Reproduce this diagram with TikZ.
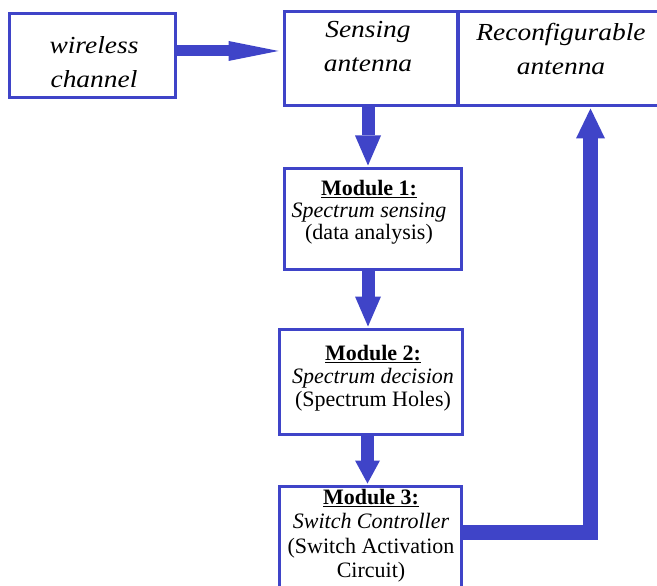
\documentclass[tikz,border=0pt]{standalone}
\usepackage{fontspec}
\setmainfont{Liberation Serif}
\usetikzlibrary{arrows.meta}
\definecolor{dblue}{RGB}{63,68,200}
\tikzset{
  box/.style={draw=dblue, line width=3pt, fill=white, inner sep=0pt, rectangle},
  toptext/.style={anchor=north, inner sep=0pt, align=center, font=\fontsize{24.5}{33.5}\selectfont\itshape},
  modtext/.style={anchor=north, inner sep=0pt, align=center},
  bigarrow/.style={draw=dblue, line join=miter},
}
\newcommand{\hs}[1]{\scalebox{1.12}[1]{#1}}
\begin{document}
\begin{tikzpicture}[x=1pt,y=-1pt]
\useasboundingbox (0,0) rectangle (657,586);
\clip (0,0) rectangle (657,586);
% boxes
\node[box, minimum width=166pt, minimum height=84pt] (wc) at (92.5,55.5) {};
\node[box, minimum width=202pt, minimum height=94pt] (rc) at (559.5,58.5) {};
\node[box, minimum width=173pt, minimum height=94pt] (sens) at (371,58.5) {};
\node[box, minimum width=177pt, minimum height=101pt] (m1) at (373,219) {};
\node[box, minimum width=183pt, minimum height=105pt] (m2) at (371,382) {};
\node[box, minimum width=182pt, minimum height=112pt] (m3) at (370.5,542.5) {};
% texts
\node[toptext] (wct) at (94,36.5) {\hs{wireless}\\\hs{channel}};
\node[toptext] (senst) at (368,21.5) {\hs{Sensing}\\\hs{antenna}};
\node[toptext] (rct) at (561,23.5) {\hs{Reconfigurable}\\\hs{antenna}};
\node[modtext, font=\fontsize{22}{21.8}\selectfont] (m1t) at (369,180.5)
  {\underline{\textbf{Module 1:}}\\\textit{Spectrum sensing}\\(data analysis)};
\node[modtext, font=\fontsize{22}{23}\selectfont] (m2t) at (373,345)
  {\underline{\textbf{Module 2:}}\\\textit{Spectrum decision}\\(Spectrum Holes)};
\node[modtext, font=\fontsize{22}{24.3}\selectfont] (m3t) at (371,489)
  {\underline{\textbf{Module 3:}}\\\textit{Switch Controller}\\(Switch Activation\\Circuit)};
% arrows
\draw[bigarrow, line width=11pt, -{Triangle[length=50pt,width=20pt,line width=0pt]}, shorten >=4.5pt]
  ([yshift=4.5pt]wc.east) -- ([yshift=4.5pt]wc.east -| sens.west);
\draw[bigarrow, line width=13pt, -{Triangle[length=30pt,width=26pt,line width=0pt]}, shorten >=1.5pt]
  ([xshift=-3pt]sens.south) -- ([xshift=-3pt]sens.south |- m1.north);
\draw[bigarrow, line width=13pt, -{Triangle[length=30pt,width=26pt,line width=0pt]}, shorten >=1.5pt]
  ([xshift=-5pt]m1.south) -- ([xshift=-5pt]m1.south |- m2.north);
\draw[bigarrow, line width=13pt, -{Triangle[length=23pt,width=25pt,line width=0pt]}, shorten >=1.5pt]
  ([xshift=-3.5pt]m2.south) -- ([xshift=-3.5pt]m2.south |- m3.north);
\draw[bigarrow, line width=15pt, -{Triangle[length=30pt,width=29pt,line width=0pt]}, shorten >=1.5pt]
  ([yshift=10pt]m3.east) -| ([xshift=31pt]rc.south);
\end{tikzpicture}
\end{document}
